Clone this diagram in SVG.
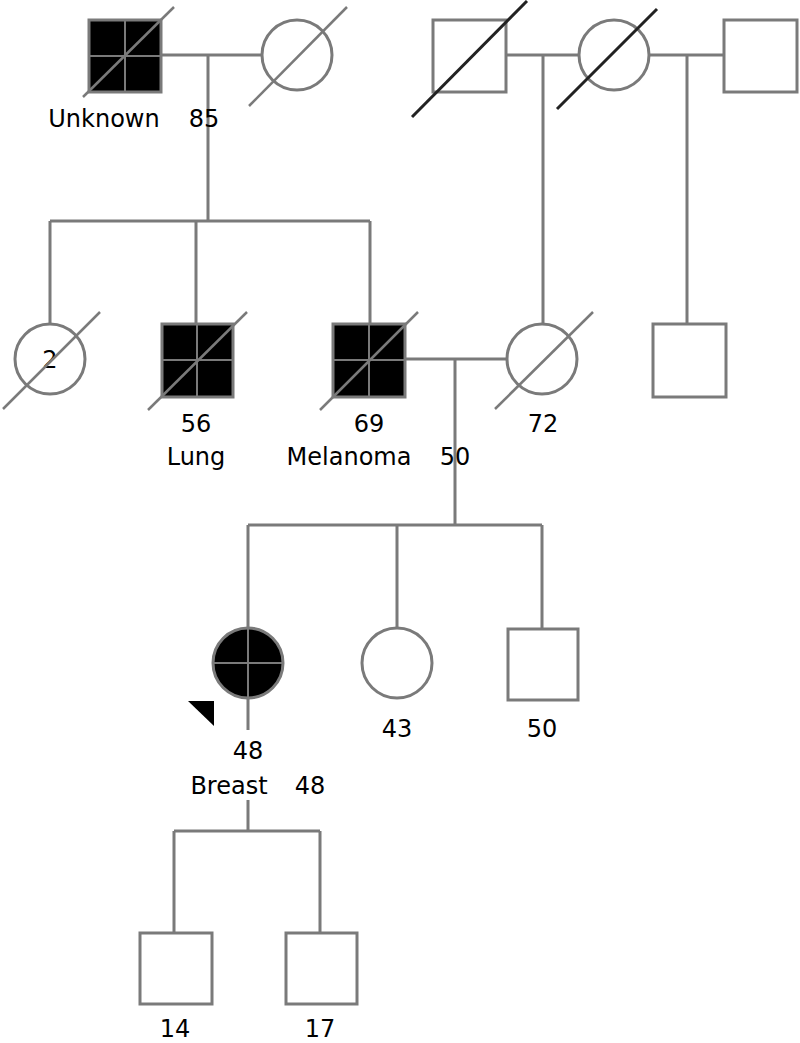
<svg xmlns="http://www.w3.org/2000/svg" width="800" height="1043" viewBox="0 0 800 1043">
<style>
.ln{stroke:#7a7a7a;stroke-width:3;fill:none}
.nd{stroke:#7a7a7a;stroke-width:3;fill:#fff}
.af{stroke:#7a7a7a;stroke-width:3;fill:#000}
.cr{stroke:#7a7a7a;stroke-width:2;fill:none}
.sl{stroke:#7a7a7a;stroke-width:2.5;fill:none}
.sk{stroke:#222;stroke-width:3;fill:none}
text{font-family:"DejaVu Sans",Verdana,sans-serif;font-size:24px;fill:#000;text-anchor:middle}
</style>
<rect width="800" height="1043" fill="#fff"/>
<g id="connectors">
<path class="ln" d="M161 55H262M208 55V221M50 221H370M50 221V323M196 221V324M370 221V324"/>
<path class="ln" d="M506 55H579M543 55V323M649 55H724M687 55V324"/>
<path class="ln" d="M405 359H507M455 359V525M248 525H542M248 525V628M397 525V628M542 525V629"/>
<path class="ln" d="M248 698V730M248 800V831M174 831H320M174 831V933M320 831V933"/>
</g>
<g id="gf">
<rect class="af" x="89" y="20" width="72" height="72"/>
<path class="cr" d="M125 20V92M89 56H161"/>
<path class="sl" d="M83 97L174 7"/>
<text x="104" y="127">Unknown</text>
</g>
<g id="age85"><text x="204" y="127">85</text></g>
<g id="gm">
<circle class="nd" cx="297" cy="55" r="35"/>
<path class="sl" d="M249 106L347 7"/>
</g>
<g id="gf2">
<rect class="nd" x="433" y="20" width="73" height="72"/>
<path class="sk" d="M412 117L527 1"/>
</g>
<g id="gm2">
<circle class="nd" cx="614" cy="55" r="35"/>
<path class="sk" d="M557 109L657 9"/>
</g>
<g id="gm2h">
<rect class="nd" x="724" y="20" width="73" height="72"/>
</g>
<g id="aunt">
<circle class="nd" cx="50" cy="359" r="35"/>
<text x="50" y="368">2</text>
<path class="sl" d="M3 409L100 312"/>
</g>
<g id="uncle">
<rect class="af" x="162" y="324" width="71" height="73"/>
<path class="cr" d="M197 324V397M162 360H233"/>
<path class="sl" d="M148 410L247 312"/>
<text x="196" y="432">56</text>
<text x="196" y="465">Lung</text>
</g>
<g id="father">
<rect class="af" x="333" y="324" width="72" height="73"/>
<path class="cr" d="M369 324V397M333 360H405"/>
<path class="sl" d="M320 410L418 312"/>
<text x="369" y="432">69</text>
<text x="349" y="465">Melanoma</text>
</g>
<g id="f50"><text x="455" y="465">50</text></g>
<g id="mother">
<circle class="nd" cx="542" cy="359" r="35"/>
<path class="sl" d="M495 409L593 312"/>
<text x="543" y="432">72</text>
</g>
<g id="mhalf">
<rect class="nd" x="653" y="324" width="73" height="73"/>
</g>
<g id="proband">
<circle class="af" cx="248" cy="663" r="35"/>
<path class="cr" d="M248 628V698M213 663H283"/>
<path fill="#000" d="M188 701H214V726Z"/>
<text x="248" y="759">48</text>
<text x="229" y="794">Breast</text>
<text x="310" y="794">48</text>
</g>
<g id="sis">
<circle class="nd" cx="397" cy="663" r="35"/>
<text x="397" y="737">43</text>
</g>
<g id="bro">
<rect class="nd" x="508" y="629" width="70" height="71"/>
<text x="542" y="737">50</text>
</g>
<g id="son1">
<rect class="nd" x="140" y="933" width="72" height="71"/>
<text x="175" y="1037">14</text>
</g>
<g id="son2">
<rect class="nd" x="286" y="933" width="71" height="71"/>
<text x="320" y="1037">17</text>
</g>
</svg>
